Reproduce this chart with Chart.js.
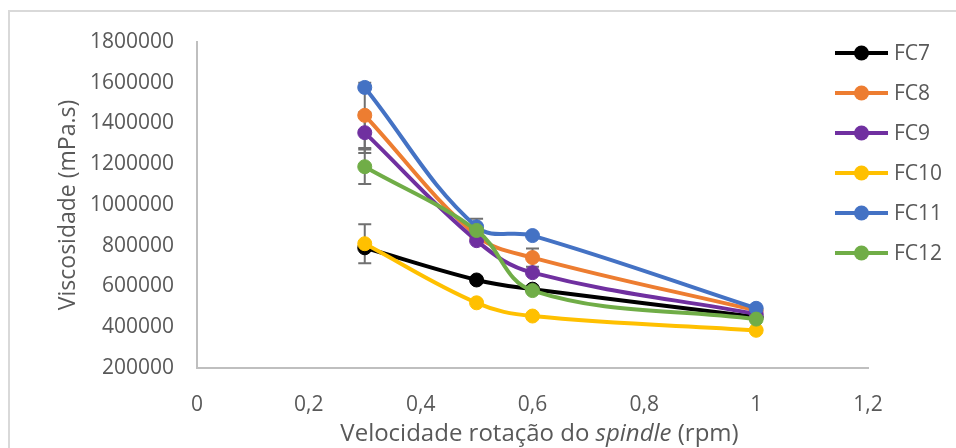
<!DOCTYPE html>
<html>
<head>
<meta charset="utf-8">
<script src="https://cdn.jsdelivr.net/npm/chart.js@4/dist/chart.umd.min.js"></script>
<style>
  html, body { margin: 0; padding: 0; background: #ffffff; }
  #wrap { position: relative; width: 956px; height: 448px; }
</style>
</head>
<body>
<div id="wrap"><canvas id="c" width="956" height="448"></canvas></div>
<script>
// ---- data ----
const speeds = [0.3, 0.5, 0.6, 1];
const seriesNames = ['FC7', 'FC8', 'FC9', 'FC10', 'FC11', 'FC12'];
const FC7  = [790000, 632000, 587000, 450000];
const FC8  = [1440000, 850000, 742000, 482000];
const FC9  = [1355000, 825000, 668000, 465000];
const FC10 = [810000, 520000, 455000, 385000];
const FC11 = [1577000, 893000, 850000, 493000];
const FC12 = [1188000, 875000, 580000, 440000];
// error bar half-heights (null = none)
const errFC7  = [null, null, null, null];
const errFC8  = [160000, null, 45000, null];
const errFC9  = [100000, null, null, null];
const errFC10 = [96000, null, null, null];
const errFC11 = [null, 40000, null, null];
const errFC12 = [85000, null, null, null];
const xTickLabels = ['0', '0,2', '0,4', '0,6', '0,8', '1', '1,2'];
const yTickLabels = ['200000', '400000', '600000', '800000', '1000000', '1200000', '1400000', '1600000', '1800000'];
const xTitleParts = [['Velocidade rotação do ', false], ['spindle', true], [' (rpm)', false]];
const yTitle = 'Viscosidade (mPa.s)';

const values = [FC7, FC8, FC9, FC10, FC11, FC12];
const errors = [errFC7, errFC8, errFC9, errFC10, errFC11, errFC12];
const colors = ['#000000', '#ED7D31', '#7030A0', '#FFC000', '#4472C4', '#70AD47'];

const FONT = '"Open Sans", sans-serif';
const TEXT = '#595959';

const datasets = seriesNames.map((n, i) => ({
  label: n,
  data: speeds.map((x, j) => ({ x: x, y: values[i][j] })),
  errs: errors[i],
  borderColor: colors[i],
  backgroundColor: colors[i],
  pointBackgroundColor: colors[i],
  pointBorderColor: colors[i],
  pointRadius: 7,
  pointBorderWidth: 1,
  borderWidth: 4,
  tension: 0.38,
  order: seriesNames.length - i,
  clip: false
}));

const framePlugin = {
  id: 'frame',
  beforeDraw(chart) {
    const ctx = chart.ctx;
    ctx.save();
    ctx.strokeStyle = '#d9d9d9';
    ctx.lineWidth = 2;
    ctx.beginPath();
    ctx.moveTo(9, 460);
    ctx.lineTo(9, 11);
    ctx.lineTo(970, 11);
    ctx.stroke();
    ctx.restore();
  }
};

const errorBarPlugin = {
  id: 'errbars',
  beforeDatasetsDraw(chart) {
    const ctx = chart.ctx;
    const xs = chart.scales.x, ys = chart.scales.y;
    ctx.save();
    ctx.strokeStyle = '#707070';
    ctx.lineWidth = 2;
    chart.data.datasets.forEach(ds => {
      ds.data.forEach((p, j) => {
        const e = ds.errs[j];
        if (e == null) return;
        const px = xs.getPixelForValue(p.x);
        const y1 = ys.getPixelForValue(p.y - e);
        const y2 = ys.getPixelForValue(p.y + e);
        ctx.beginPath();
        ctx.moveTo(px, y1); ctx.lineTo(px, y2);
        ctx.moveTo(px - 6.5, y1); ctx.lineTo(px + 6.5, y1);
        ctx.moveTo(px - 6.5, y2); ctx.lineTo(px + 6.5, y2);
        ctx.stroke();
      });
    });
    ctx.restore();
  }
};

const legendPlugin = {
  id: 'customLegend',
  afterDraw(chart) {
    const ctx = chart.ctx;
    ctx.save();
    ctx.font = '21px ' + FONT;
    ctx.textBaseline = 'middle';
    ctx.textAlign = 'left';
    chart.data.datasets.forEach((ds, i) => {
      const y = 53 + i * 40;
      ctx.strokeStyle = ds.borderColor;
      ctx.lineWidth = 4;
      ctx.beginPath();
      ctx.moveTo(835, y); ctx.lineTo(888, y);
      ctx.stroke();
      ctx.fillStyle = ds.borderColor;
      ctx.beginPath();
      ctx.arc(861.5, y, 7.5, 0, Math.PI * 2);
      ctx.fill();
      ctx.fillStyle = TEXT;
      ctx.fillText(ds.label, 894, y + 1);
    });
    ctx.restore();
  }
};

let xTitlePartsWidths = [];
const xTitlePlugin = {
  id: 'xTitle',
  afterDraw(chart) {
    const ctx = chart.ctx;
    const a = chart.chartArea;
    ctx.save();
    ctx.textBaseline = 'middle';
    ctx.textAlign = 'left';
    ctx.fillStyle = TEXT;
    const fontFor = it => (it ? 'italic ' : '') + '24px ' + FONT;
    let total = 0;
    xTitlePartsWidths = xTitleParts.map(([t, it]) => { ctx.font = fontFor(it); const w = ctx.measureText(t).width; total += w; return w; });
    let x = (a.left + a.right) / 2 + 7 - total / 2;
    xTitleParts.forEach(([t, it], k) => {
      ctx.font = fontFor(it);
      ctx.fillText(t, x, 434);
      x += xTitlePartsWidths[k];
    });
    ctx.restore();
  }
};

new Chart(document.getElementById('c'), {
  type: 'line',
  data: { datasets },
  options: {
    responsive: false,
    animation: false,
    devicePixelRatio: 1,
    layout: { padding: { left: 0, top: 42, right: 88, bottom: 0 } },
    plugins: { legend: { display: false }, tooltip: { enabled: false } },
    scales: {
      x: {
        type: 'linear',
        min: 0, max: 1.2,
        ticks: {
          stepSize: 0.2,
          padding: 24,
          color: TEXT,
          font: { family: FONT, size: 21 },
          callback: (v, i) => xTickLabels[i]
        },
        grid: { display: false, drawTicks: false },
        border: { display: true, color: '#bfbfbf', width: 2 },
        afterFit: s => { s.height = 80; }
      },
      y: {
        type: 'linear',
        min: 200000, max: 1800000,
        ticks: {
          stepSize: 200000,
          padding: 23,
          color: TEXT,
          font: { family: FONT, size: 21 },
          callback: (v, i) => yTickLabels[i]
        },
        grid: { display: false, drawTicks: false },
        border: { display: true, color: '#bfbfbf', width: 2 },
        title: {
          display: true,
          text: yTitle,
          color: TEXT,
          font: { family: FONT, size: 23 },
          padding: { top: 55, bottom: 0 }
        },
        afterFit: s => { s.width = 197; }
      }
    }
  },
  plugins: [framePlugin, errorBarPlugin, legendPlugin, xTitlePlugin]
});
</script>
</body>
</html>
